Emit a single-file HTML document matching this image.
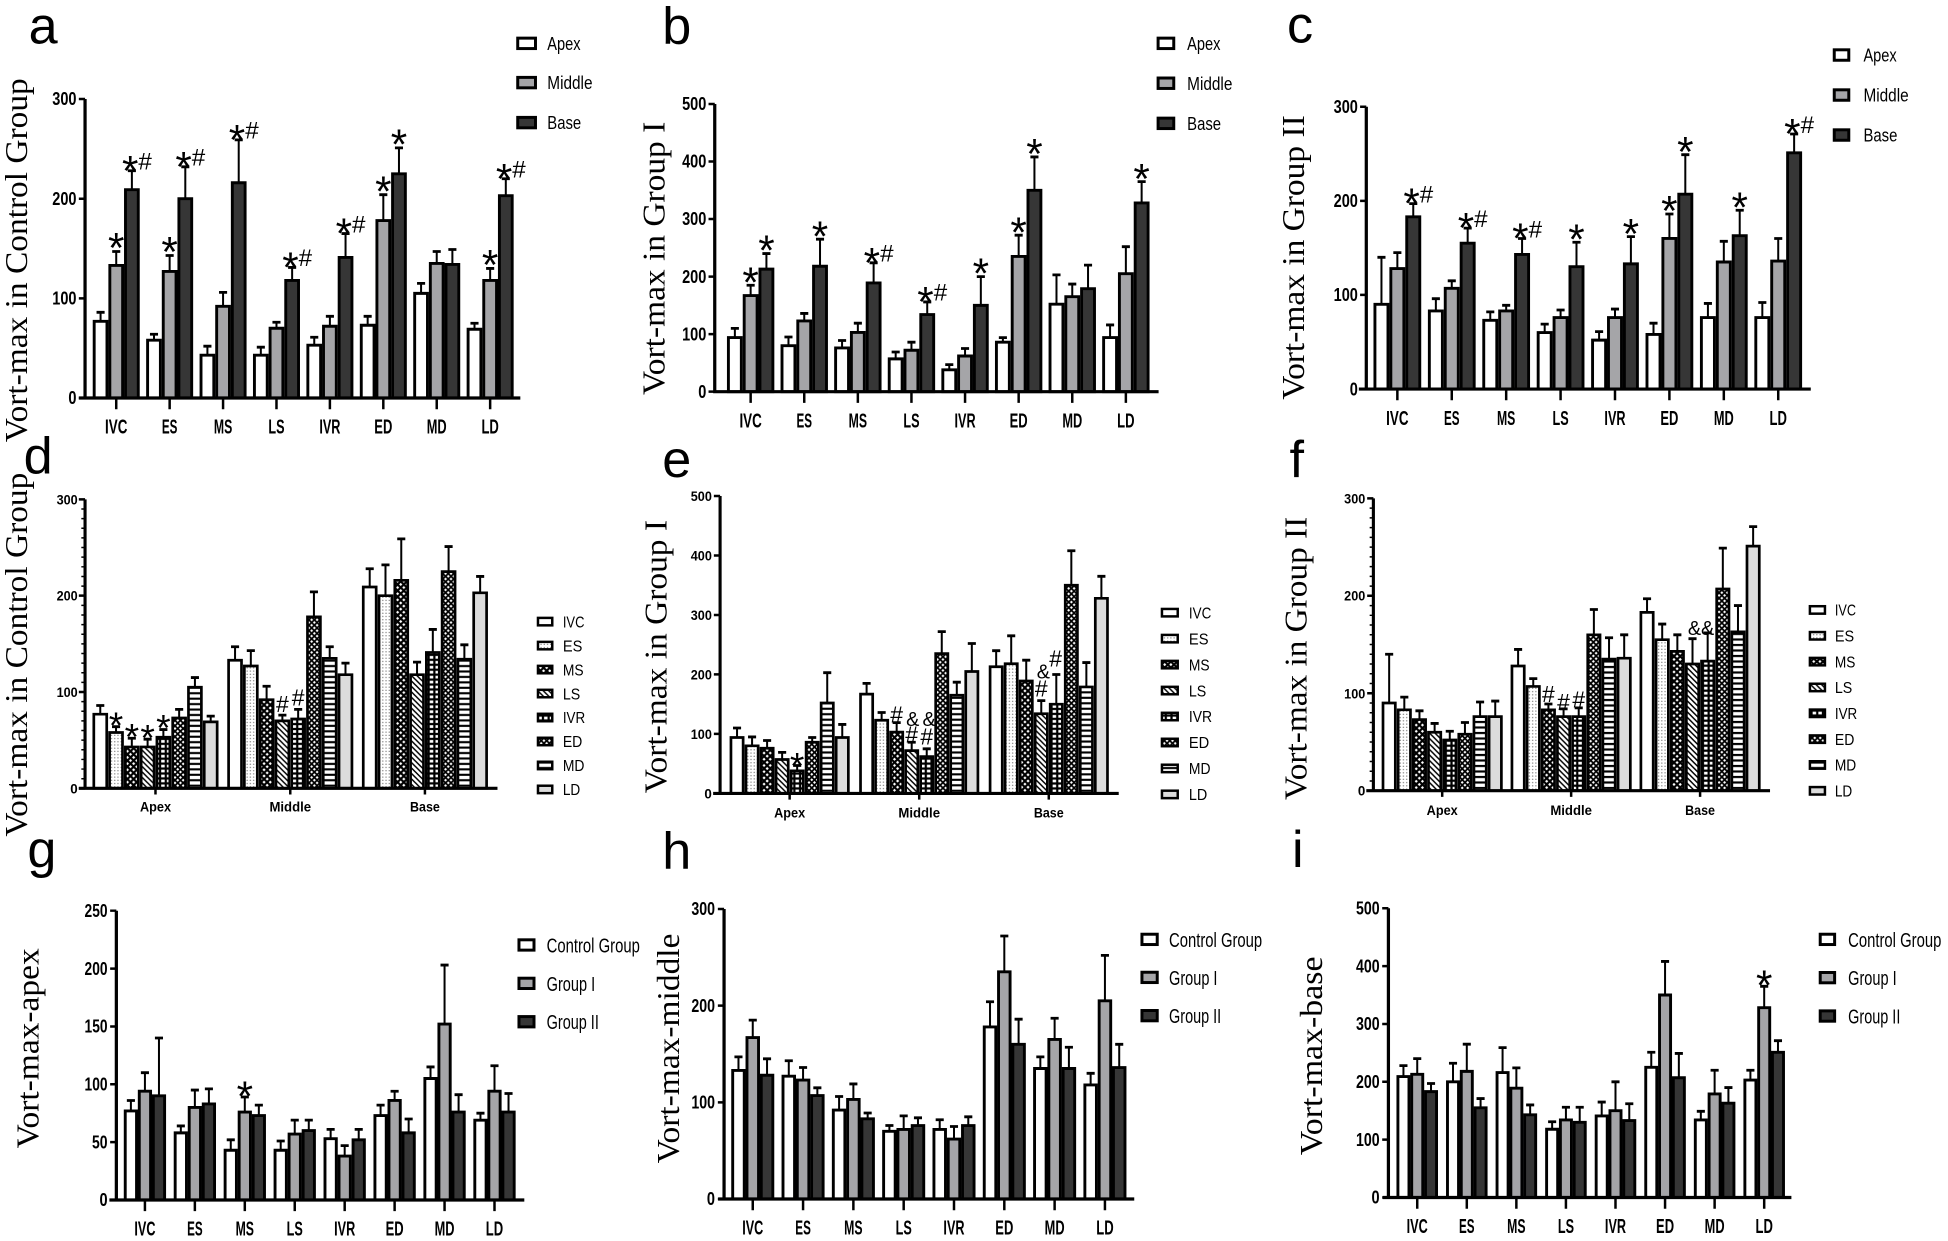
<!DOCTYPE html>
<html><head><meta charset="utf-8"><style>
body{margin:0;background:#fff}
svg{display:block}
text{font-family:"Liberation Sans",Arial,sans-serif;fill:#000}
.L{font-size:42px}
.yl{font-family:"Liberation Serif","Times New Roman",serif;font-size:25.5px;text-anchor:middle}
.tk{font-family:"Liberation Sans Narrow","Liberation Sans",sans-serif;font-weight:bold;font-size:14.5px;text-anchor:end}
.tk2{font-family:"Liberation Sans",sans-serif;font-weight:bold;font-size:11px;text-anchor:end}
.cl{font-family:"Liberation Sans Narrow","Liberation Sans",sans-serif;font-weight:bold;font-size:16.5px;text-anchor:middle}
.gl{font-family:"Liberation Sans",sans-serif;font-weight:bold;font-size:11.5px;text-anchor:middle}
.lg{font-family:"Liberation Sans Narrow","Liberation Sans",sans-serif;font-size:15px}
.lg2{font-family:"Liberation Sans Narrow","Liberation Sans",sans-serif;font-size:13px}
.lg3{font-family:"Liberation Sans Narrow","Liberation Sans",sans-serif;font-size:16.5px}
.st{font-size:34px;text-anchor:middle}
.st2{font-size:30px;text-anchor:middle}
.cb{font-size:19.5px;text-anchor:start}
.an{font-size:18.5px;text-anchor:middle}
.an2{font-size:16px;text-anchor:middle}
.s *{vector-effect:non-scaling-stroke}
</style></head><body>
<svg width="1948" height="1241" viewBox="0 0 1568 999" xmlns="http://www.w3.org/2000/svg">
<defs>
<pattern id="ES0" width="2.6" height="2.6" patternUnits="userSpaceOnUse"><rect width="3" height="3" fill="#fff"/><circle cx="1.3" cy="1.3" r=".6" fill="#888"/></pattern>
<pattern id="MS0" width="5" height="5" patternUnits="userSpaceOnUse"><rect width="5" height="5" fill="#fff"/><path d="M0 0L5 5M5 0L0 5" stroke="#000" stroke-width="1.7"/></pattern>
<pattern id="LS0" width="4.4" height="4.4" patternUnits="userSpaceOnUse"><rect width="4.4" height="4.4" fill="#fff"/><path d="M0 0L4.4 4.4M-1 3.4L1 5.4M3.4-1L5.4 1" stroke="#000" stroke-width="1.2"/></pattern>
<pattern id="IVR0" width="4.6" height="4" patternUnits="userSpaceOnUse"><rect width="4.6" height="4" fill="#000"/><rect x=".9" y=".9" width="2.8" height="2.2" fill="#fff"/></pattern>
<pattern id="ED0" width="4.4" height="4.4" patternUnits="userSpaceOnUse"><rect width="4.4" height="4.4" fill="#000"/><path d="M2.2 1L3.4 2.2L2.2 3.4L1 2.2ZM0 0h1.2L0 1.2ZM4.4 0v1.2L3.2 0ZM0 4.4v-1.2L1.2 4.4ZM4.4 4.4h-1.2L4.4 3.2Z" fill="#fff"/></pattern>
<pattern id="MD0" width="5" height="4.4" patternUnits="userSpaceOnUse"><rect width="5" height="4.4" fill="#fff"/><rect y="1.4" width="5" height="1.7" fill="#000"/></pattern>

<pattern id="ES1" width="2.6" height="2.6" patternUnits="userSpaceOnUse" patternTransform="scale(1,1.283)"><rect width="3" height="3" fill="#fff"/><circle cx="1.3" cy="1.3" r=".6" fill="#888"/></pattern>
<pattern id="MS1" width="5" height="5" patternUnits="userSpaceOnUse" patternTransform="scale(1,1.283)"><rect width="5" height="5" fill="#fff"/><path d="M0 0L5 5M5 0L0 5" stroke="#000" stroke-width="1.7"/></pattern>
<pattern id="LS1" width="4.4" height="4.4" patternUnits="userSpaceOnUse" patternTransform="scale(1,1.283)"><rect width="4.4" height="4.4" fill="#fff"/><path d="M0 0L4.4 4.4M-1 3.4L1 5.4M3.4-1L5.4 1" stroke="#000" stroke-width="1.2"/></pattern>
<pattern id="IVR1" width="4.6" height="4" patternUnits="userSpaceOnUse" patternTransform="scale(1,1.283)"><rect width="4.6" height="4" fill="#000"/><rect x=".9" y=".9" width="2.8" height="2.2" fill="#fff"/></pattern>
<pattern id="ED1" width="4.4" height="4.4" patternUnits="userSpaceOnUse" patternTransform="scale(1,1.283)"><rect width="4.4" height="4.4" fill="#000"/><path d="M2.2 1L3.4 2.2L2.2 3.4L1 2.2ZM0 0h1.2L0 1.2ZM4.4 0v1.2L3.2 0ZM0 4.4v-1.2L1.2 4.4ZM4.4 4.4h-1.2L4.4 3.2Z" fill="#fff"/></pattern>
<pattern id="MD1" width="5" height="4.4" patternUnits="userSpaceOnUse" patternTransform="scale(1,1.283)"><rect width="5" height="4.4" fill="#fff"/><rect y="1.4" width="5" height="1.7" fill="#000"/></pattern>

<pattern id="ES2" width="2.6" height="2.6" patternUnits="userSpaceOnUse" patternTransform="scale(1,2.089)"><rect width="3" height="3" fill="#fff"/><circle cx="1.3" cy="1.3" r=".6" fill="#888"/></pattern>
<pattern id="MS2" width="5" height="5" patternUnits="userSpaceOnUse" patternTransform="scale(1,2.089)"><rect width="5" height="5" fill="#fff"/><path d="M0 0L5 5M5 0L0 5" stroke="#000" stroke-width="1.7"/></pattern>
<pattern id="LS2" width="4.4" height="4.4" patternUnits="userSpaceOnUse" patternTransform="scale(1,2.089)"><rect width="4.4" height="4.4" fill="#fff"/><path d="M0 0L4.4 4.4M-1 3.4L1 5.4M3.4-1L5.4 1" stroke="#000" stroke-width="1.2"/></pattern>
<pattern id="IVR2" width="4.6" height="4" patternUnits="userSpaceOnUse" patternTransform="scale(1,2.089)"><rect width="4.6" height="4" fill="#000"/><rect x=".9" y=".9" width="2.8" height="2.2" fill="#fff"/></pattern>
<pattern id="ED2" width="4.4" height="4.4" patternUnits="userSpaceOnUse" patternTransform="scale(1,2.089)"><rect width="4.4" height="4.4" fill="#000"/><path d="M2.2 1L3.4 2.2L2.2 3.4L1 2.2ZM0 0h1.2L0 1.2ZM4.4 0v1.2L3.2 0ZM0 4.4v-1.2L1.2 4.4ZM4.4 4.4h-1.2L4.4 3.2Z" fill="#fff"/></pattern>
<pattern id="MD2" width="5" height="4.4" patternUnits="userSpaceOnUse" patternTransform="scale(1,2.089)"><rect width="5" height="4.4" fill="#fff"/><rect y="1.4" width="5" height="1.7" fill="#000"/></pattern>
</defs>
<rect width="1568" height="999" fill="#fff"/>

<!-- Panel letters -->
<text class="L" x="23" y="35">a</text>
<text class="L" x="533" y="35">b</text>
<text class="L" x="1036" y="34">c</text>
<text class="L" x="19" y="381">d</text>
<text class="L" x="533" y="384">e</text>
<text class="L" x="1038" y="384">f</text>
<text class="L" x="22" y="698">g</text>
<text class="L" x="533" y="699">h</text>
<text class="L" x="1040" y="698">i</text>

<!-- Y axis titles -->
<text class="yl" transform="translate(21.5,209.5) rotate(-90)" textLength="293" lengthAdjust="spacingAndGlyphs">Vort-max in Control Group</text>
<text class="yl" transform="translate(535,208) rotate(-90)" textLength="220" lengthAdjust="spacingAndGlyphs">Vort-max in Group I</text>
<text class="yl" transform="translate(1049.8,207.3) rotate(-90)" textLength="229" lengthAdjust="spacingAndGlyphs">Vort-max in Group II</text>
<text class="yl" transform="translate(21.5,527) rotate(-90)" textLength="293" lengthAdjust="spacingAndGlyphs">Vort-max in Control Group</text>
<text class="yl" transform="translate(536.5,528.6) rotate(-90)" textLength="220" lengthAdjust="spacingAndGlyphs">Vort-max in Group I</text>
<text class="yl" transform="translate(1051.6,530) rotate(-90)" textLength="228" lengthAdjust="spacingAndGlyphs">Vort-max in Group II</text>
<text class="yl" transform="translate(30.9,843.9) rotate(-90)" textLength="161" lengthAdjust="spacingAndGlyphs">Vort-max-apex</text>
<text class="yl" transform="translate(546.4,844) rotate(-90)" textLength="185" lengthAdjust="spacingAndGlyphs">Vort-max-middle</text>
<text class="yl" transform="translate(1064,850) rotate(-90)" textLength="160" lengthAdjust="spacingAndGlyphs">Vort-max-base</text>

<!-- ===== Panel a ===== -->
<g class="s" transform="translate(0,320.4) scale(1,0.8023)" fill="none" stroke="#000">
<path stroke-width="2" d="M80.9-77V-86M123.9-58V-64M166.9-43V-52M209.9-43V-51M252.9-53V-61M295.9-73V-82M338.9-105V-115M381.9-69V-75M93.5-133V-147M136.5-127V-143M179.5-92V-106M222.5-70V-76M265.5-72V-82M308.5-178V-204M351.5-135V-147M394.5-118V-130M106.1-209V-228M149.1-200V-232M192.1-216V-259M235.1-118V-131M278.1-141V-165M321.1-225V-251M364.1-134V-149M407.1-203V-220"/>
<path stroke-width="2.8" d="M77.65-86h6.5M120.65-64h6.5M163.65-52h6.5M206.65-51h6.5M249.65-61h6.5M292.65-82h6.5M335.65-115h6.5M378.65-75h6.5M90.25-147h6.5M133.25-143h6.5M176.25-106h6.5M219.25-76h6.5M262.25-82h6.5M305.25-204h6.5M348.25-147h6.5M391.25-130h6.5M102.85-228h6.5M145.85-232h6.5M188.85-259h6.5M231.85-131h6.5M274.85-165h6.5M317.85-251h6.5M360.85-149h6.5M403.85-220h6.5"/>
<g stroke-width="2.9">
<path fill="#fff" d="M75.75 0v-77h10.3v77zM118.75 0v-58h10.3v58zM161.75 0v-43h10.3v43zM204.75 0v-43h10.3v43zM247.75 0v-53h10.3v53zM290.75 0v-73h10.3v73zM333.75 0v-105h10.3v105zM376.75 0v-69h10.3v69z"/>
<path fill="#a5a5a8" d="M88.35 0v-133h10.3v133zM131.35 0v-127h10.3v127zM174.35 0v-92h10.3v92zM217.35 0v-70h10.3v70zM260.35 0v-72h10.3v72zM303.35 0v-178h10.3v178zM346.35 0v-135h10.3v135zM389.35 0v-118h10.3v118z"/>
<path fill="#363636" d="M100.95 0v-209h10.3v209zM143.95 0v-200h10.3v200zM186.95 0v-216h10.3v216zM229.95 0v-118h10.3v118zM272.95 0v-141h10.3v141zM315.95 0v-225h10.3v225zM358.95 0v-134h10.3v134zM401.95 0v-203h10.3v203z"/>
</g></g>
<path fill="none" stroke="#000" stroke-width="2.6" d="M68.4 79.7V321.6M63.4 320.4H418.8"/>
<path fill="none" stroke="#000" stroke-width="2" d="M63.4 320.4H68.4M63.4 240.2H68.4M63.4 160H68.4M63.4 79.7H68.4M93.5 320.4v9M136.5 320.4v9M179.5 320.4v9M222.5 320.4v9M265.5 320.4v9M308.5 320.4v9M351.5 320.4v9M394.5 320.4v9"/>
<text class="tk" x="61.5" y="325.4" textLength="6.5" lengthAdjust="spacingAndGlyphs">0</text>
<text class="tk" x="61.5" y="245.2" textLength="19.5" lengthAdjust="spacingAndGlyphs">100</text>
<text class="tk" x="61.5" y="165" textLength="19.5" lengthAdjust="spacingAndGlyphs">200</text>
<text class="tk" x="61.5" y="84.7" textLength="19.5" lengthAdjust="spacingAndGlyphs">300</text>
<text class="cl" x="93.5" y="349" textLength="18" lengthAdjust="spacingAndGlyphs">IVC</text>
<text class="cl" x="136.5" y="349" textLength="12.5" lengthAdjust="spacingAndGlyphs">ES</text>
<text class="cl" x="179.5" y="349" textLength="14.8" lengthAdjust="spacingAndGlyphs">MS</text>
<text class="cl" x="222.5" y="349" textLength="13" lengthAdjust="spacingAndGlyphs">LS</text>
<text class="cl" x="265.5" y="349" textLength="17" lengthAdjust="spacingAndGlyphs">IVR</text>
<text class="cl" x="308.5" y="349" textLength="14.5" lengthAdjust="spacingAndGlyphs">ED</text>
<text class="cl" x="351.5" y="349" textLength="16" lengthAdjust="spacingAndGlyphs">MD</text>
<text class="cl" x="394.5" y="349" textLength="14" lengthAdjust="spacingAndGlyphs">LD</text>
<g stroke="#000" stroke-width="2.4">
<rect x="416.7" y="30.7" width="14.3" height="8.4" fill="#fff"/>
<rect x="416.7" y="62.3" width="14.3" height="8.4" fill="#a5a5a8"/>
<rect x="416.7" y="94.5" width="14.3" height="8.4" fill="#363636"/>
</g>
<text class="lg" x="440.5" y="40.2" textLength="26.8" lengthAdjust="spacingAndGlyphs">Apex</text>
<text class="lg" x="440.5" y="71.8" textLength="36.4" lengthAdjust="spacingAndGlyphs">Middle</text>
<text class="lg" x="440.5" y="104" textLength="27.3" lengthAdjust="spacingAndGlyphs">Base</text>
<text class="st" x="93.5" y="211.5">*</text>
<text class="cb" x="98.1" y="136.5"><tspan font-size="34" dy="12.7">*</tspan><tspan dy="-12.7">#</tspan></text>
<text class="st" x="136.5" y="214.7">*</text>
<text class="cb" x="141.1" y="133.3"><tspan font-size="34" dy="12.7">*</tspan><tspan dy="-12.7">#</tspan></text>
<text class="cb" x="184.1" y="111.6"><tspan font-size="34" dy="12.7">*</tspan><tspan dy="-12.7">#</tspan></text>
<text class="cb" x="227.1" y="214.3"><tspan font-size="34" dy="12.7">*</tspan><tspan dy="-12.7">#</tspan></text>
<text class="cb" x="270.1" y="187"><tspan font-size="34" dy="12.7">*</tspan><tspan dy="-12.7">#</tspan></text>
<text class="st" x="308.5" y="165.7">*</text>
<text class="st" x="321.1" y="128">*</text>
<text class="st" x="394.5" y="225.1">*</text>
<text class="cb" x="399.1" y="142.9"><tspan font-size="34" dy="12.7">*</tspan><tspan dy="-12.7">#</tspan></text>

<!-- ===== Panel b ===== -->
<g class="s" transform="translate(0,315.3) scale(1,0.4632)" fill="none" stroke="#000">
<path stroke-width="2" d="M591.5-94V-110M634.65-80V-95M677.8-76V-89M720.95-57V-69M764.1-38V-47M807.25-86V-94M850.4-152V-203M893.55-94V-116M604.2-167V-185M647.35-123V-136M690.5-103V-119M733.65-72V-86M776.8-62V-75M819.95-235V-272M863.1-165V-187M906.25-205V-252M616.9-213V-240M660.05-218V-265M703.2-189V-224M746.35-134V-156M789.5-150V-200M832.65-350V-408M875.8-179V-220M918.95-328V-365"/>
<path stroke-width="2.8" d="M588.25-110h6.5M631.4-95h6.5M674.55-89h6.5M717.7-69h6.5M760.85-47h6.5M804-94h6.5M847.15-203h6.5M890.3-116h6.5M600.95-185h6.5M644.1-136h6.5M687.25-119h6.5M730.4-86h6.5M773.55-75h6.5M816.7-272h6.5M859.85-187h6.5M903-252h6.5M613.65-240h6.5M656.8-265h6.5M699.95-224h6.5M743.1-156h6.5M786.25-200h6.5M829.4-408h6.5M872.55-220h6.5M915.7-365h6.5"/>
<g stroke-width="2.9">
<path fill="#fff" d="M586.3 0v-94h10.4v94zM629.45 0v-80h10.4v80zM672.6 0v-76h10.4v76zM715.75 0v-57h10.4v57zM758.9 0v-38h10.4v38zM802.05 0v-86h10.4v86zM845.2 0v-152h10.4v152zM888.35 0v-94h10.4v94z"/>
<path fill="#a5a5a8" d="M599 0v-167h10.4v167zM642.15 0v-123h10.4v123zM685.3 0v-103h10.4v103zM728.45 0v-72h10.4v72zM771.6 0v-62h10.4v62zM814.75 0v-235h10.4v235zM857.9 0v-165h10.4v165zM901.05 0v-205h10.4v205z"/>
<path fill="#363636" d="M611.7 0v-213h10.4v213zM654.85 0v-218h10.4v218zM698 0v-189h10.4v189zM741.15 0v-134h10.4v134zM784.3 0v-150h10.4v150zM827.45 0v-350h10.4v350zM870.6 0v-179h10.4v179zM913.75 0v-328h10.4v328z"/>
</g></g>
<path fill="none" stroke="#000" stroke-width="2.6" d="M575.3 83.7V316.5M574 315.3H932.6"/>
<path fill="none" stroke="#000" stroke-width="2" d="M570.3 315.3H575.3M570.3 269H575.3M570.3 222.7H575.3M570.3 176.3H575.3M570.3 130H575.3M570.3 83.7H575.3M604.2 315.3v9M647.35 315.3v9M690.5 315.3v9M733.65 315.3v9M776.8 315.3v9M819.95 315.3v9M863.1 315.3v9M906.25 315.3v9"/>
<text class="tk" x="568.5" y="320.3" textLength="6.5" lengthAdjust="spacingAndGlyphs">0</text>
<text class="tk" x="568.5" y="274" textLength="19.5" lengthAdjust="spacingAndGlyphs">100</text>
<text class="tk" x="568.5" y="227.7" textLength="19.5" lengthAdjust="spacingAndGlyphs">200</text>
<text class="tk" x="568.5" y="181.3" textLength="19.5" lengthAdjust="spacingAndGlyphs">300</text>
<text class="tk" x="568.5" y="135" textLength="19.5" lengthAdjust="spacingAndGlyphs">400</text>
<text class="tk" x="568.5" y="88.7" textLength="19.5" lengthAdjust="spacingAndGlyphs">500</text>
<text class="cl" x="604.2" y="344" textLength="18" lengthAdjust="spacingAndGlyphs">IVC</text>
<text class="cl" x="647.35" y="344" textLength="12.5" lengthAdjust="spacingAndGlyphs">ES</text>
<text class="cl" x="690.5" y="344" textLength="14.8" lengthAdjust="spacingAndGlyphs">MS</text>
<text class="cl" x="733.65" y="344" textLength="13" lengthAdjust="spacingAndGlyphs">LS</text>
<text class="cl" x="776.8" y="344" textLength="17" lengthAdjust="spacingAndGlyphs">IVR</text>
<text class="cl" x="819.95" y="344" textLength="14.5" lengthAdjust="spacingAndGlyphs">ED</text>
<text class="cl" x="863.1" y="344" textLength="16" lengthAdjust="spacingAndGlyphs">MD</text>
<text class="cl" x="906.25" y="344" textLength="14" lengthAdjust="spacingAndGlyphs">LD</text>
<g stroke="#000" stroke-width="2.4">
<rect x="932.2" y="30.7" width="12.6" height="8.4" fill="#fff"/>
<rect x="932.2" y="62.8" width="12.6" height="8.4" fill="#a5a5a8"/>
<rect x="932.2" y="95.1" width="12.6" height="8.4" fill="#363636"/>
</g>
<text class="lg" x="955.6" y="40.2" textLength="26.8" lengthAdjust="spacingAndGlyphs">Apex</text>
<text class="lg" x="955.6" y="72.3" textLength="36.4" lengthAdjust="spacingAndGlyphs">Middle</text>
<text class="lg" x="955.6" y="104.6" textLength="27.3" lengthAdjust="spacingAndGlyphs">Base</text>
<text class="st" x="604.2" y="239">*</text>
<text class="st" x="616.9" y="213.5">*</text>
<text class="st" x="660.05" y="202">*</text>
<text class="cb" x="695.2" y="210.5"><tspan font-size="34" dy="12.7">*</tspan><tspan dy="-12.7">#</tspan></text>
<text class="cb" x="738.35" y="242"><tspan font-size="34" dy="12.7">*</tspan><tspan dy="-12.7">#</tspan></text>
<text class="st" x="789.5" y="232">*</text>
<text class="st" x="819.95" y="198.7">*</text>
<text class="st" x="832.65" y="135.7">*</text>
<text class="st" x="918.95" y="155.6">*</text>

<!-- ===== Panel c ===== -->
<g class="s" transform="translate(0,313.2) scale(1,0.7577)" fill="none" stroke="#000">
<path stroke-width="2" d="M1112-90V-140M1155.8-83V-96M1199.6-73V-82M1243.4-60V-69M1287.2-52V-61M1331-58V-70M1374.8-76V-91M1418.6-76V-92M1124.8-128V-145M1168.6-107V-115M1212.4-83V-89M1256.2-76V-84M1300-76V-85M1343.8-160V-186M1387.6-135V-157M1431.4-136V-160M1137.6-183V-197M1181.4-155V-171M1225.2-143V-160M1269-130V-156M1312.8-133V-162M1356.6-207V-249M1400.4-163V-190M1444.2-251V-271"/>
<path stroke-width="2.8" d="M1108.75-140h6.5M1152.55-96h6.5M1196.35-82h6.5M1240.15-69h6.5M1283.95-61h6.5M1327.75-70h6.5M1371.55-91h6.5M1415.35-92h6.5M1121.55-145h6.5M1165.35-115h6.5M1209.15-89h6.5M1252.95-84h6.5M1296.75-85h6.5M1340.55-186h6.5M1384.35-157h6.5M1428.15-160h6.5M1134.35-197h6.5M1178.15-171h6.5M1221.95-160h6.5M1265.75-156h6.5M1309.55-162h6.5M1353.35-249h6.5M1397.15-190h6.5M1440.95-271h6.5"/>
<g stroke-width="2.9">
<path fill="#fff" d="M1106.75 0v-90h10.5v90zM1150.55 0v-83h10.5v83zM1194.35 0v-73h10.5v73zM1238.15 0v-60h10.5v60zM1281.95 0v-52h10.5v52zM1325.75 0v-58h10.5v58zM1369.55 0v-76h10.5v76zM1413.35 0v-76h10.5v76z"/>
<path fill="#a5a5a8" d="M1119.55 0v-128h10.5v128zM1163.35 0v-107h10.5v107zM1207.15 0v-83h10.5v83zM1250.95 0v-76h10.5v76zM1294.75 0v-76h10.5v76zM1338.55 0v-160h10.5v160zM1382.35 0v-135h10.5v135zM1426.15 0v-136h10.5v136z"/>
<path fill="#363636" d="M1132.35 0v-183h10.5v183zM1176.15 0v-155h10.5v155zM1219.95 0v-143h10.5v143zM1263.75 0v-130h10.5v130zM1307.55 0v-133h10.5v133zM1351.35 0v-207h10.5v207zM1395.15 0v-163h10.5v163zM1438.95 0v-251h10.5v251z"/>
</g></g>
<path fill="none" stroke="#000" stroke-width="2.6" d="M1099.8 85.9V314.4M1093.8 313.2H1457.6"/>
<path fill="none" stroke="#000" stroke-width="2" d="M1094.8 313.2H1099.8M1094.8 237.4H1099.8M1094.8 161.7H1099.8M1094.8 85.9H1099.8M1124.8 313.2v9M1168.6 313.2v9M1212.4 313.2v9M1256.2 313.2v9M1300 313.2v9M1343.8 313.2v9M1387.6 313.2v9M1431.4 313.2v9"/>
<text class="tk" x="1093" y="318.2" textLength="6.5" lengthAdjust="spacingAndGlyphs">0</text>
<text class="tk" x="1093" y="242.4" textLength="19.5" lengthAdjust="spacingAndGlyphs">100</text>
<text class="tk" x="1093" y="166.7" textLength="19.5" lengthAdjust="spacingAndGlyphs">200</text>
<text class="tk" x="1093" y="90.9" textLength="19.5" lengthAdjust="spacingAndGlyphs">300</text>
<text class="cl" x="1124.8" y="342" textLength="18" lengthAdjust="spacingAndGlyphs">IVC</text>
<text class="cl" x="1168.6" y="342" textLength="12.5" lengthAdjust="spacingAndGlyphs">ES</text>
<text class="cl" x="1212.4" y="342" textLength="14.8" lengthAdjust="spacingAndGlyphs">MS</text>
<text class="cl" x="1256.2" y="342" textLength="13" lengthAdjust="spacingAndGlyphs">LS</text>
<text class="cl" x="1300" y="342" textLength="17" lengthAdjust="spacingAndGlyphs">IVR</text>
<text class="cl" x="1343.8" y="342" textLength="14.5" lengthAdjust="spacingAndGlyphs">ED</text>
<text class="cl" x="1387.6" y="342" textLength="16" lengthAdjust="spacingAndGlyphs">MD</text>
<text class="cl" x="1431.4" y="342" textLength="14" lengthAdjust="spacingAndGlyphs">LD</text>
<g stroke="#000" stroke-width="2.4">
<rect x="1476.5" y="40.1" width="11.7" height="8.4" fill="#fff"/>
<rect x="1476.5" y="72.3" width="11.7" height="8.4" fill="#a5a5a8"/>
<rect x="1476.5" y="104.5" width="11.7" height="8.4" fill="#363636"/>
</g>
<text class="lg" x="1500" y="49.6" textLength="26.8" lengthAdjust="spacingAndGlyphs">Apex</text>
<text class="lg" x="1500" y="81.8" textLength="36.4" lengthAdjust="spacingAndGlyphs">Middle</text>
<text class="lg" x="1500" y="114" textLength="27.3" lengthAdjust="spacingAndGlyphs">Base</text>
<text class="cb" x="1129.6" y="162.9"><tspan font-size="34" dy="12.7">*</tspan><tspan dy="-12.7">#</tspan></text>
<text class="cb" x="1173.4" y="182.6"><tspan font-size="34" dy="12.7">*</tspan><tspan dy="-12.7">#</tspan></text>
<text class="cb" x="1217.2" y="191"><tspan font-size="34" dy="12.7">*</tspan><tspan dy="-12.7">#</tspan></text>
<text class="st" x="1269" y="204.4">*</text>
<text class="st" x="1312.8" y="199.9">*</text>
<text class="st" x="1343.8" y="181.7">*</text>
<text class="st" x="1356.6" y="133.9">*</text>
<text class="st" x="1400.4" y="178.6">*</text>
<text class="cb" x="1436.2" y="106.9"><tspan font-size="34" dy="12.7">*</tspan><tspan dy="-12.7">#</tspan></text>

<!-- ===== Panel d ===== -->
<g class="s" transform="translate(0,634.6) scale(1,0.7753)" fill="none" stroke="#000">
<path stroke-width="2" d="M80.65-77V-86M93.35-58V-64M106.05-43V-52M118.75-43V-51M131.45-53V-61M144.15-73V-82M156.85-105V-115M169.55-69V-75M189.15-133V-147M201.85-127V-143M214.55-92V-106M227.25-70V-76M239.95-72V-82M252.65-178V-204M265.35-135V-147M278.05-118V-130M297.55-209V-228M310.25-200V-232M322.95-216V-259M335.65-118V-131M348.35-141V-165M361.05-225V-251M373.75-134V-149M386.45-203V-220"/>
<path stroke-width="2.8" d="M77.4-86h6.5M90.1-64h6.5M102.8-52h6.5M115.5-51h6.5M128.2-61h6.5M140.9-82h6.5M153.6-115h6.5M166.3-75h6.5M185.9-147h6.5M198.6-143h6.5M211.3-106h6.5M224-76h6.5M236.7-82h6.5M249.4-204h6.5M262.1-147h6.5M274.8-130h6.5M294.3-228h6.5M307-232h6.5M319.7-259h6.5M332.4-131h6.5M345.1-165h6.5M357.8-251h6.5M370.5-149h6.5M383.2-220h6.5"/>
<g stroke-width="2.7">
<path fill="#fff" d="M75.45 0v-77h10.4v77zM183.95 0v-133h10.4v133zM292.35 0v-209h10.4v209z"/>
<path fill="url(#ES1)" d="M88.15 0v-58h10.4v58zM196.65 0v-127h10.4v127zM305.05 0v-200h10.4v200z"/>
<path fill="url(#MS1)" d="M100.85 0v-43h10.4v43zM209.35 0v-92h10.4v92zM317.75 0v-216h10.4v216z"/>
<path fill="url(#LS1)" d="M113.55 0v-43h10.4v43zM222.05 0v-70h10.4v70zM330.45 0v-118h10.4v118z"/>
<path fill="url(#IVR1)" d="M126.25 0v-53h10.4v53zM234.75 0v-72h10.4v72zM343.15 0v-141h10.4v141z"/>
<path fill="url(#ED1)" d="M138.95 0v-73h10.4v73zM247.45 0v-178h10.4v178zM355.85 0v-225h10.4v225z"/>
<path fill="url(#MD1)" d="M151.65 0v-105h10.4v105zM260.15 0v-135h10.4v135zM368.55 0v-134h10.4v134z"/>
<path fill="#dcdcdc" d="M164.35 0v-69h10.4v69zM272.85 0v-118h10.4v118zM381.25 0v-203h10.4v203z"/>
</g></g>
<path fill="none" stroke="#000" stroke-width="3" stroke-dasharray="1.2 6.553" stroke-dashoffset="0.6" d="M66.9 634.6V402"/>
<path fill="none" stroke="#000" stroke-width="2.5" d="M68.4 402V635.8M63.4 634.6H400.4"/>
<path fill="none" stroke="#000" stroke-width="2" d="M63.4 634.6H68.4M63.4 557.1H68.4M63.4 479.5H68.4M63.4 402H68.4M125.1 634.6v5M233.6 634.6v5M342 634.6v5"/>
<text class="tk2" x="62.5" y="638.6" textLength="6" lengthAdjust="spacingAndGlyphs">0</text>
<text class="tk2" x="62.5" y="561.1" textLength="17" lengthAdjust="spacingAndGlyphs">100</text>
<text class="tk2" x="62.5" y="483.5" textLength="17" lengthAdjust="spacingAndGlyphs">200</text>
<text class="tk2" x="62.5" y="406" textLength="17" lengthAdjust="spacingAndGlyphs">300</text>
<text class="gl" x="125.1" y="653.4" textLength="25" lengthAdjust="spacingAndGlyphs">Apex</text>
<text class="gl" x="233.6" y="653.4" textLength="33.5" lengthAdjust="spacingAndGlyphs">Middle</text>
<text class="gl" x="342" y="653.4" textLength="24" lengthAdjust="spacingAndGlyphs">Base</text>
<g stroke="#000" stroke-width="2">
<rect x="433" y="497.4" width="11.5" height="6" fill="#fff"/>
<rect x="433" y="516.7" width="11.5" height="6" fill="url(#ES0)"/>
<rect x="433" y="536" width="11.5" height="6" fill="url(#MS0)"/>
<rect x="433" y="555.3" width="11.5" height="6" fill="url(#LS0)"/>
<rect x="433" y="574.6" width="11.5" height="6" fill="url(#IVR0)"/>
<rect x="433" y="593.9" width="11.5" height="6" fill="url(#ED0)"/>
<rect x="433" y="613.2" width="11.5" height="6" fill="url(#MD0)"/>
<rect x="433" y="632.5" width="11.5" height="6" fill="#dcdcdc"/>
</g>
<text class="lg2" x="453" y="505" textLength="17.4" lengthAdjust="spacingAndGlyphs">IVC</text>
<text class="lg2" x="453" y="524.3" textLength="15.7" lengthAdjust="spacingAndGlyphs">ES</text>
<text class="lg2" x="453" y="543.6" textLength="16.7" lengthAdjust="spacingAndGlyphs">MS</text>
<text class="lg2" x="453" y="562.9" textLength="14" lengthAdjust="spacingAndGlyphs">LS</text>
<text class="lg2" x="453" y="582.2" textLength="18" lengthAdjust="spacingAndGlyphs">IVR</text>
<text class="lg2" x="453" y="601.5" textLength="15.7" lengthAdjust="spacingAndGlyphs">ED</text>
<text class="lg2" x="453" y="620.8" textLength="17.4" lengthAdjust="spacingAndGlyphs">MD</text>
<text class="lg2" x="453" y="640.1" textLength="14" lengthAdjust="spacingAndGlyphs">LD</text>
<text class="st2" x="93.35" y="594">*</text>
<text class="st2" x="106.05" y="603.3">*</text>
<text class="st2" x="118.75" y="604.1">*</text>
<text class="st2" x="131.45" y="596.3">*</text>
<text class="an" x="227.25" y="573">#</text>
<text class="an" x="239.95" y="568">#</text>

<!-- ===== Panel e ===== -->
<g class="s" transform="translate(0,638.7) scale(1,0.4788)" fill="none" stroke="#000">
<path stroke-width="2" d="M593.25-94V-110M605.35-80V-95M617.45-76V-89M629.55-57V-69M641.65-38V-47M653.75-86V-94M665.85-152V-203M677.95-94V-116M697.55-167V-185M709.65-123V-136M721.75-103V-119M733.85-72V-86M745.95-62V-75M758.05-235V-272M770.15-165V-187M782.25-205V-252M801.85-213V-240M813.95-218V-265M826.05-189V-224M838.15-134V-156M850.25-150V-200M862.35-350V-408M874.45-179V-220M886.55-328V-365"/>
<path stroke-width="2.8" d="M590-110h6.5M602.1-95h6.5M614.2-89h6.5M626.3-69h6.5M638.4-47h6.5M650.5-94h6.5M662.6-203h6.5M674.7-116h6.5M694.3-185h6.5M706.4-136h6.5M718.5-119h6.5M730.6-86h6.5M742.7-75h6.5M754.8-272h6.5M766.9-187h6.5M779-252h6.5M798.6-240h6.5M810.7-265h6.5M822.8-224h6.5M834.9-156h6.5M847-200h6.5M859.1-408h6.5M871.2-220h6.5M883.3-365h6.5"/>
<g stroke-width="2.7">
<path fill="#fff" d="M588.35 0v-94h9.8v94zM692.65 0v-167h9.8v167zM796.95 0v-213h9.8v213z"/>
<path fill="url(#ES2)" d="M600.45 0v-80h9.8v80zM704.75 0v-123h9.8v123zM809.05 0v-218h9.8v218z"/>
<path fill="url(#MS2)" d="M612.55 0v-76h9.8v76zM716.85 0v-103h9.8v103zM821.15 0v-189h9.8v189z"/>
<path fill="url(#LS2)" d="M624.65 0v-57h9.8v57zM728.95 0v-72h9.8v72zM833.25 0v-134h9.8v134z"/>
<path fill="url(#IVR2)" d="M636.75 0v-38h9.8v38zM741.05 0v-62h9.8v62zM845.35 0v-150h9.8v150z"/>
<path fill="url(#ED2)" d="M648.85 0v-86h9.8v86zM753.15 0v-235h9.8v235zM857.45 0v-350h9.8v350z"/>
<path fill="url(#MD2)" d="M660.95 0v-152h9.8v152zM765.25 0v-165h9.8v165zM869.55 0v-179h9.8v179z"/>
<path fill="#dcdcdc" d="M673.05 0v-94h9.8v94zM777.35 0v-205h9.8v205zM881.65 0v-328h9.8v328z"/>
</g></g>
<path fill="none" stroke="#000" stroke-width="2.5" d="M579.6 399.3V639.9M574 638.7H900.5"/>
<path fill="none" stroke="#000" stroke-width="2" d="M574.6 638.7H579.6M574.6 590.8H579.6M574.6 542.9H579.6M574.6 495.1H579.6M574.6 447.2H579.6M574.6 399.3H579.6M635.6 638.7v5M739.9 638.7v5M844.2 638.7v5"/>
<text class="tk2" x="573" y="642.7" textLength="6" lengthAdjust="spacingAndGlyphs">0</text>
<text class="tk2" x="573" y="594.8" textLength="17" lengthAdjust="spacingAndGlyphs">100</text>
<text class="tk2" x="573" y="546.9" textLength="17" lengthAdjust="spacingAndGlyphs">200</text>
<text class="tk2" x="573" y="499.1" textLength="17" lengthAdjust="spacingAndGlyphs">300</text>
<text class="tk2" x="573" y="451.2" textLength="17" lengthAdjust="spacingAndGlyphs">400</text>
<text class="tk2" x="573" y="403.3" textLength="17" lengthAdjust="spacingAndGlyphs">500</text>
<text class="gl" x="635.6" y="658" textLength="25" lengthAdjust="spacingAndGlyphs">Apex</text>
<text class="gl" x="739.9" y="658" textLength="33.5" lengthAdjust="spacingAndGlyphs">Middle</text>
<text class="gl" x="844.2" y="658" textLength="24" lengthAdjust="spacingAndGlyphs">Base</text>
<g stroke="#000" stroke-width="2">
<rect x="935.3" y="490.2" width="12.7" height="6" fill="#fff"/>
<rect x="935.3" y="511.1" width="12.7" height="6" fill="url(#ES0)"/>
<rect x="935.3" y="532" width="12.7" height="6" fill="url(#MS0)"/>
<rect x="935.3" y="552.9" width="12.7" height="6" fill="url(#LS0)"/>
<rect x="935.3" y="573.8" width="12.7" height="6" fill="url(#IVR0)"/>
<rect x="935.3" y="594.7" width="12.7" height="6" fill="url(#ED0)"/>
<rect x="935.3" y="615.6" width="12.7" height="6" fill="url(#MD0)"/>
<rect x="935.3" y="636.5" width="12.7" height="6" fill="#dcdcdc"/>
</g>
<text class="lg2" x="957" y="497.8" textLength="18" lengthAdjust="spacingAndGlyphs">IVC</text>
<text class="lg2" x="957" y="518.7" textLength="15.8" lengthAdjust="spacingAndGlyphs">ES</text>
<text class="lg2" x="957" y="539.6" textLength="16.7" lengthAdjust="spacingAndGlyphs">MS</text>
<text class="lg2" x="957" y="560.5" textLength="14" lengthAdjust="spacingAndGlyphs">LS</text>
<text class="lg2" x="957" y="581.4" textLength="18.7" lengthAdjust="spacingAndGlyphs">IVR</text>
<text class="lg2" x="957" y="602.3" textLength="16.4" lengthAdjust="spacingAndGlyphs">ED</text>
<text class="lg2" x="957" y="623.2" textLength="17.4" lengthAdjust="spacingAndGlyphs">MD</text>
<text class="lg2" x="957" y="644.1" textLength="14.8" lengthAdjust="spacingAndGlyphs">LD</text>
<text class="st2" x="641.65" y="626.8">*</text>
<text class="an" x="721.75" y="581.7">#</text>
<text class="an2" x="734.7" y="584.5">&amp;</text>
<text class="an2" x="747.9" y="584.5">&amp;</text>
<text class="an" x="733.85" y="597.7">#</text>
<text class="an" x="745.95" y="599.5">#</text>
<text class="an2" x="839.8" y="546">&amp;</text>
<text class="an" x="838.15" y="560.5">#</text>
<text class="an" x="849.7" y="536.7">#</text>

<!-- ===== Panel f ===== -->
<g class="s" transform="translate(0,636.5) scale(1,0.7843)" fill="none" stroke="#000">
<path stroke-width="2" d="M1118.2-90V-140M1130.4-83V-96M1142.6-73V-82M1154.8-60V-69M1167-52V-61M1179.2-58V-70M1191.4-76V-91M1203.6-76V-92M1222-128V-145M1234.2-107V-115M1246.4-83V-89M1258.6-76V-84M1270.8-76V-85M1283-160V-186M1295.2-135V-157M1307.4-136V-160M1325.8-183V-197M1338-155V-171M1350.2-143V-160M1362.4-130V-156M1374.6-133V-162M1386.8-207V-249M1399-163V-190M1411.2-251V-271"/>
<path stroke-width="2.8" d="M1114.95-140h6.5M1127.15-96h6.5M1139.35-82h6.5M1151.55-69h6.5M1163.75-61h6.5M1175.95-70h6.5M1188.15-91h6.5M1200.35-92h6.5M1218.75-145h6.5M1230.95-115h6.5M1243.15-89h6.5M1255.35-84h6.5M1267.55-85h6.5M1279.75-186h6.5M1291.95-157h6.5M1304.15-160h6.5M1322.55-197h6.5M1334.75-171h6.5M1346.95-160h6.5M1359.15-156h6.5M1371.35-162h6.5M1383.55-249h6.5M1395.75-190h6.5M1407.95-271h6.5"/>
<g stroke-width="2.7">
<path fill="#fff" d="M1113.25 0v-90h9.9v90zM1217.05 0v-128h9.9v128zM1320.85 0v-183h9.9v183z"/>
<path fill="url(#ES1)" d="M1125.45 0v-83h9.9v83zM1229.25 0v-107h9.9v107zM1333.05 0v-155h9.9v155z"/>
<path fill="url(#MS1)" d="M1137.65 0v-73h9.9v73zM1241.45 0v-83h9.9v83zM1345.25 0v-143h9.9v143z"/>
<path fill="url(#LS1)" d="M1149.85 0v-60h9.9v60zM1253.65 0v-76h9.9v76zM1357.45 0v-130h9.9v130z"/>
<path fill="url(#IVR1)" d="M1162.05 0v-52h9.9v52zM1265.85 0v-76h9.9v76zM1369.65 0v-133h9.9v133z"/>
<path fill="url(#ED1)" d="M1174.25 0v-58h9.9v58zM1278.05 0v-160h9.9v160zM1381.85 0v-207h9.9v207z"/>
<path fill="url(#MD1)" d="M1186.45 0v-76h9.9v76zM1290.25 0v-135h9.9v135zM1394.05 0v-163h9.9v163z"/>
<path fill="#dcdcdc" d="M1198.65 0v-76h9.9v76zM1302.45 0v-136h9.9v136zM1406.25 0v-251h9.9v251z"/>
</g></g>
<path fill="none" stroke="#000" stroke-width="3" stroke-dasharray="1.2 6.643" stroke-dashoffset="0.6" d="M1104 636.5V401.2"/>
<path fill="none" stroke="#000" stroke-width="2.5" d="M1105.5 401.2V637.7M1099.8 636.5H1424.8"/>
<path fill="none" stroke="#000" stroke-width="2" d="M1100.5 636.5H1105.5M1100.5 558.1H1105.5M1100.5 479.6H1105.5M1100.5 401.2H1105.5M1160.9 636.5v5M1264.7 636.5v5M1368.5 636.5v5"/>
<text class="tk2" x="1099" y="640.5" textLength="6" lengthAdjust="spacingAndGlyphs">0</text>
<text class="tk2" x="1099" y="562.1" textLength="17" lengthAdjust="spacingAndGlyphs">100</text>
<text class="tk2" x="1099" y="483.6" textLength="17" lengthAdjust="spacingAndGlyphs">200</text>
<text class="tk2" x="1099" y="405.2" textLength="17" lengthAdjust="spacingAndGlyphs">300</text>
<text class="gl" x="1160.9" y="656" textLength="25" lengthAdjust="spacingAndGlyphs">Apex</text>
<text class="gl" x="1264.7" y="656" textLength="33.5" lengthAdjust="spacingAndGlyphs">Middle</text>
<text class="gl" x="1368.5" y="656" textLength="24" lengthAdjust="spacingAndGlyphs">Base</text>
<g stroke="#000" stroke-width="2">
<rect x="1456.9" y="488" width="12.1" height="6" fill="#fff"/>
<rect x="1456.9" y="508.8" width="12.1" height="6" fill="url(#ES0)"/>
<rect x="1456.9" y="529.6" width="12.1" height="6" fill="url(#MS0)"/>
<rect x="1456.9" y="550.4" width="12.1" height="6" fill="url(#LS0)"/>
<rect x="1456.9" y="571.2" width="12.1" height="6" fill="url(#IVR0)"/>
<rect x="1456.9" y="592" width="12.1" height="6" fill="url(#ED0)"/>
<rect x="1456.9" y="612.8" width="12.1" height="6" fill="url(#MD0)"/>
<rect x="1456.9" y="633.6" width="12.1" height="6" fill="#dcdcdc"/>
</g>
<text class="lg2" x="1477" y="495.6" textLength="17" lengthAdjust="spacingAndGlyphs">IVC</text>
<text class="lg2" x="1477" y="516.4" textLength="15.5" lengthAdjust="spacingAndGlyphs">ES</text>
<text class="lg2" x="1477" y="537.2" textLength="16.5" lengthAdjust="spacingAndGlyphs">MS</text>
<text class="lg2" x="1477" y="558" textLength="14" lengthAdjust="spacingAndGlyphs">LS</text>
<text class="lg2" x="1477" y="578.8" textLength="18" lengthAdjust="spacingAndGlyphs">IVR</text>
<text class="lg2" x="1477" y="599.6" textLength="15.7" lengthAdjust="spacingAndGlyphs">ED</text>
<text class="lg2" x="1477" y="620.4" textLength="17.2" lengthAdjust="spacingAndGlyphs">MD</text>
<text class="lg2" x="1477" y="641.2" textLength="14" lengthAdjust="spacingAndGlyphs">LD</text>
<text class="an" x="1246.4" y="565">#</text>
<text class="an" x="1258.6" y="571.6">#</text>
<text class="an" x="1270.8" y="569.4">#</text>
<text class="an2" x="1364" y="511.2">&amp;</text>
<text class="an2" x="1374.6" y="511.2">&amp;</text>

<!-- ===== Panel g ===== -->
<g class="s" transform="translate(0,966) scale(1,0.9316)" fill="none" stroke="#000">
<path stroke-width="2" d="M105.3-77V-86M145.5-58V-64M185.7-43V-52M225.9-43V-51M266.1-53V-61M306.3-73V-82M346.5-105V-115M386.7-69V-75M116.6-94V-110M156.8-80V-95M197-76V-89M237.2-57V-69M277.4-38V-47M317.6-86V-94M357.8-152V-203M398-94V-116M127.9-90V-140M168.1-83V-96M208.3-73V-82M248.5-60V-69M288.7-52V-61M328.9-58V-70M369.1-76V-91M409.3-76V-92"/>
<path stroke-width="2.8" d="M102.05-86h6.5M142.25-64h6.5M182.45-52h6.5M222.65-51h6.5M262.85-61h6.5M303.05-82h6.5M343.25-115h6.5M383.45-75h6.5M113.35-110h6.5M153.55-95h6.5M193.75-89h6.5M233.95-69h6.5M274.15-47h6.5M314.35-94h6.5M354.55-203h6.5M394.75-116h6.5M124.65-140h6.5M164.85-96h6.5M205.05-82h6.5M245.25-69h6.5M285.45-61h6.5M325.65-70h6.5M365.85-91h6.5M406.05-92h6.5"/>
<g stroke-width="2.9">
<path fill="#fff" d="M100.75 0v-77h9.1v77zM140.95 0v-58h9.1v58zM181.15 0v-43h9.1v43zM221.35 0v-43h9.1v43zM261.55 0v-53h9.1v53zM301.75 0v-73h9.1v73zM341.95 0v-105h9.1v105zM382.15 0v-69h9.1v69z"/>
<path fill="#a5a5a8" d="M112.05 0v-94h9.1v94zM152.25 0v-80h9.1v80zM192.45 0v-76h9.1v76zM232.65 0v-57h9.1v57zM272.85 0v-38h9.1v38zM313.05 0v-86h9.1v86zM353.25 0v-152h9.1v152zM393.45 0v-94h9.1v94z"/>
<path fill="#363636" d="M123.35 0v-90h9.1v90zM163.55 0v-83h9.1v83zM203.75 0v-73h9.1v73zM243.95 0v-60h9.1v60zM284.15 0v-52h9.1v52zM324.35 0v-58h9.1v58zM364.55 0v-76h9.1v76zM404.75 0v-76h9.1v76z"/>
</g></g>
<path fill="none" stroke="#000" stroke-width="2.6" d="M93.6 733.1V967.2M88 966H422"/>
<path fill="none" stroke="#000" stroke-width="2" d="M88.6 966H93.6M88.6 919.4H93.6M88.6 872.8H93.6M88.6 826.3H93.6M88.6 779.7H93.6M88.6 733.1H93.6M116.6 966v9M156.8 966v9M197 966v9M237.2 966v9M277.4 966v9M317.6 966v9M357.8 966v9M398 966v9"/>
<text class="tk" x="86.5" y="971" textLength="6.5" lengthAdjust="spacingAndGlyphs">0</text>
<text class="tk" x="86.5" y="924.4" textLength="12.5" lengthAdjust="spacingAndGlyphs">50</text>
<text class="tk" x="86.5" y="877.8" textLength="18.5" lengthAdjust="spacingAndGlyphs">100</text>
<text class="tk" x="86.5" y="831.3" textLength="18.5" lengthAdjust="spacingAndGlyphs">150</text>
<text class="tk" x="86.5" y="784.7" textLength="18.5" lengthAdjust="spacingAndGlyphs">200</text>
<text class="tk" x="86.5" y="738.1" textLength="18.5" lengthAdjust="spacingAndGlyphs">250</text>
<text class="cl" x="116.6" y="994.5" textLength="17" lengthAdjust="spacingAndGlyphs">IVC</text>
<text class="cl" x="156.8" y="994.5" textLength="12.5" lengthAdjust="spacingAndGlyphs">ES</text>
<text class="cl" x="197" y="994.5" textLength="14.8" lengthAdjust="spacingAndGlyphs">MS</text>
<text class="cl" x="237.2" y="994.5" textLength="13" lengthAdjust="spacingAndGlyphs">LS</text>
<text class="cl" x="277.4" y="994.5" textLength="17" lengthAdjust="spacingAndGlyphs">IVR</text>
<text class="cl" x="317.6" y="994.5" textLength="14.5" lengthAdjust="spacingAndGlyphs">ED</text>
<text class="cl" x="357.8" y="994.5" textLength="16" lengthAdjust="spacingAndGlyphs">MD</text>
<text class="cl" x="398" y="994.5" textLength="14" lengthAdjust="spacingAndGlyphs">LD</text>
<g stroke="#000" stroke-width="2.4">
<rect x="417.7" y="756.55" width="12.1" height="8.3" fill="#fff"/>
<rect x="417.7" y="787.45" width="12.1" height="8.3" fill="#a5a5a8"/>
<rect x="417.7" y="818.35" width="12.1" height="8.3" fill="#363636"/>
</g>
<text class="lg3" x="440" y="766.7" textLength="75" lengthAdjust="spacingAndGlyphs">Control Group</text>
<text class="lg3" x="440" y="797.6" textLength="39" lengthAdjust="spacingAndGlyphs">Group I</text>
<text class="lg3" x="440" y="828.5" textLength="42" lengthAdjust="spacingAndGlyphs">Group II</text>
<text class="st" x="197" y="894.5">*</text>

<!-- ===== Panel h ===== -->
<g class="s" transform="translate(0,965.2) scale(1,0.7783)" fill="none" stroke="#000">
<path stroke-width="2" d="M594.4-133V-147M634.9-127V-143M675.4-92V-106M715.9-70V-76M756.4-72V-82M796.9-178V-204M837.4-135V-147M877.9-118V-130M605.9-167V-185M646.4-123V-136M686.9-103V-119M727.4-72V-86M767.9-62V-75M808.4-235V-272M848.9-165V-187M889.4-205V-252M617.4-128V-145M657.9-107V-115M698.4-83V-89M738.9-76V-84M779.4-76V-85M819.9-160V-186M860.4-135V-157M900.9-136V-160"/>
<path stroke-width="2.8" d="M591.15-147h6.5M631.65-143h6.5M672.15-106h6.5M712.65-76h6.5M753.15-82h6.5M793.65-204h6.5M834.15-147h6.5M874.65-130h6.5M602.65-185h6.5M643.15-136h6.5M683.65-119h6.5M724.15-86h6.5M764.65-75h6.5M805.15-272h6.5M845.65-187h6.5M886.15-252h6.5M614.15-145h6.5M654.65-115h6.5M695.15-89h6.5M735.65-84h6.5M776.15-85h6.5M816.65-186h6.5M857.15-157h6.5M897.65-160h6.5"/>
<g stroke-width="2.9">
<path fill="#fff" d="M589.75 0v-133h9.3v133zM630.25 0v-127h9.3v127zM670.75 0v-92h9.3v92zM711.25 0v-70h9.3v70zM751.75 0v-72h9.3v72zM792.25 0v-178h9.3v178zM832.75 0v-135h9.3v135zM873.25 0v-118h9.3v118z"/>
<path fill="#a5a5a8" d="M601.25 0v-167h9.3v167zM641.75 0v-123h9.3v123zM682.25 0v-103h9.3v103zM722.75 0v-72h9.3v72zM763.25 0v-62h9.3v62zM803.75 0v-235h9.3v235zM844.25 0v-165h9.3v165zM884.75 0v-205h9.3v205z"/>
<path fill="#363636" d="M612.75 0v-128h9.3v128zM653.25 0v-107h9.3v107zM693.75 0v-83h9.3v83zM734.25 0v-76h9.3v76zM774.75 0v-76h9.3v76zM815.25 0v-160h9.3v160zM855.75 0v-135h9.3v135zM896.25 0v-136h9.3v136z"/>
</g></g>
<path fill="none" stroke="#000" stroke-width="2.6" d="M582.8 731.7V966.4M578 965.2H913"/>
<path fill="none" stroke="#000" stroke-width="2" d="M577.8 965.2H582.8M577.8 887.4H582.8M577.8 809.5H582.8M577.8 731.7H582.8M605.9 965.2v9M646.4 965.2v9M686.9 965.2v9M727.4 965.2v9M767.9 965.2v9M808.4 965.2v9M848.9 965.2v9M889.4 965.2v9"/>
<text class="tk" x="575.5" y="970.2" textLength="6.5" lengthAdjust="spacingAndGlyphs">0</text>
<text class="tk" x="575.5" y="892.4" textLength="19" lengthAdjust="spacingAndGlyphs">100</text>
<text class="tk" x="575.5" y="814.5" textLength="19" lengthAdjust="spacingAndGlyphs">200</text>
<text class="tk" x="575.5" y="736.7" textLength="19" lengthAdjust="spacingAndGlyphs">300</text>
<text class="cl" x="605.9" y="993.7" textLength="17" lengthAdjust="spacingAndGlyphs">IVC</text>
<text class="cl" x="646.4" y="993.7" textLength="12.5" lengthAdjust="spacingAndGlyphs">ES</text>
<text class="cl" x="686.9" y="993.7" textLength="14.8" lengthAdjust="spacingAndGlyphs">MS</text>
<text class="cl" x="727.4" y="993.7" textLength="13" lengthAdjust="spacingAndGlyphs">LS</text>
<text class="cl" x="767.9" y="993.7" textLength="17" lengthAdjust="spacingAndGlyphs">IVR</text>
<text class="cl" x="808.4" y="993.7" textLength="14.5" lengthAdjust="spacingAndGlyphs">ED</text>
<text class="cl" x="848.9" y="993.7" textLength="16" lengthAdjust="spacingAndGlyphs">MD</text>
<text class="cl" x="889.4" y="993.7" textLength="14" lengthAdjust="spacingAndGlyphs">LD</text>
<g stroke="#000" stroke-width="2.4">
<rect x="919.2" y="752.05" width="12.3" height="8.3" fill="#fff"/>
<rect x="919.2" y="782.65" width="12.3" height="8.3" fill="#a5a5a8"/>
<rect x="919.2" y="813.45" width="12.3" height="8.3" fill="#363636"/>
</g>
<text class="lg3" x="941" y="762.2" textLength="75" lengthAdjust="spacingAndGlyphs">Control Group</text>
<text class="lg3" x="941" y="792.8" textLength="39" lengthAdjust="spacingAndGlyphs">Group I</text>
<text class="lg3" x="941" y="823.6" textLength="42" lengthAdjust="spacingAndGlyphs">Group II</text>

<!-- ===== Panel i ===== -->
<g class="s" transform="translate(0,964) scale(1,0.4658)" fill="none" stroke="#000">
<path stroke-width="2" d="M1129.7-209V-228M1169.6-200V-232M1209.5-216V-259M1249.4-118V-131M1289.3-141V-165M1329.2-225V-251M1369.1-134V-149M1409-203V-220M1140.8-213V-240M1180.7-218V-265M1220.6-189V-224M1260.5-134V-156M1300.4-150V-200M1340.3-350V-408M1380.2-179V-220M1420.1-328V-365M1151.9-183V-197M1191.8-155V-171M1231.7-143V-160M1271.6-130V-156M1311.5-133V-162M1351.4-207V-249M1391.3-163V-190M1431.2-251V-271"/>
<path stroke-width="2.8" d="M1126.45-228h6.5M1166.35-232h6.5M1206.25-259h6.5M1246.15-131h6.5M1286.05-165h6.5M1325.95-251h6.5M1365.85-149h6.5M1405.75-220h6.5M1137.55-240h6.5M1177.45-265h6.5M1217.35-224h6.5M1257.25-156h6.5M1297.15-200h6.5M1337.05-408h6.5M1376.95-220h6.5M1416.85-365h6.5M1148.65-197h6.5M1188.55-171h6.5M1228.45-160h6.5M1268.35-156h6.5M1308.25-162h6.5M1348.15-249h6.5M1388.05-190h6.5M1427.95-271h6.5"/>
<g stroke-width="2.9">
<path fill="#fff" d="M1125.25 0v-209h8.9v209zM1165.15 0v-200h8.9v200zM1205.05 0v-216h8.9v216zM1244.95 0v-118h8.9v118zM1284.85 0v-141h8.9v141zM1324.75 0v-225h8.9v225zM1364.65 0v-134h8.9v134zM1404.55 0v-203h8.9v203z"/>
<path fill="#a5a5a8" d="M1136.35 0v-213h8.9v213zM1176.25 0v-218h8.9v218zM1216.15 0v-189h8.9v189zM1256.05 0v-134h8.9v134zM1295.95 0v-150h8.9v150zM1335.85 0v-350h8.9v350zM1375.75 0v-179h8.9v179zM1415.65 0v-328h8.9v328z"/>
<path fill="#363636" d="M1147.45 0v-183h8.9v183zM1187.35 0v-155h8.9v155zM1227.25 0v-143h8.9v143zM1267.15 0v-130h8.9v130zM1307.05 0v-133h8.9v133zM1346.95 0v-207h8.9v207zM1386.85 0v-163h8.9v163zM1426.75 0v-251h8.9v251z"/>
</g></g>
<path fill="none" stroke="#000" stroke-width="2.6" d="M1117.6 731.1V965.2M1113 964H1442"/>
<path fill="none" stroke="#000" stroke-width="2" d="M1112.6 964H1117.6M1112.6 917.4H1117.6M1112.6 870.8H1117.6M1112.6 824.3H1117.6M1112.6 777.7H1117.6M1112.6 731.1H1117.6M1140.8 964v9M1180.7 964v9M1220.6 964v9M1260.5 964v9M1300.4 964v9M1340.3 964v9M1380.2 964v9M1420.1 964v9"/>
<text class="tk" x="1110.5" y="969" textLength="6.5" lengthAdjust="spacingAndGlyphs">0</text>
<text class="tk" x="1110.5" y="922.4" textLength="19" lengthAdjust="spacingAndGlyphs">100</text>
<text class="tk" x="1110.5" y="875.8" textLength="19" lengthAdjust="spacingAndGlyphs">200</text>
<text class="tk" x="1110.5" y="829.3" textLength="19" lengthAdjust="spacingAndGlyphs">300</text>
<text class="tk" x="1110.5" y="782.7" textLength="19" lengthAdjust="spacingAndGlyphs">400</text>
<text class="tk" x="1110.5" y="736.1" textLength="19" lengthAdjust="spacingAndGlyphs">500</text>
<text class="cl" x="1140.8" y="992.5" textLength="17" lengthAdjust="spacingAndGlyphs">IVC</text>
<text class="cl" x="1180.7" y="992.5" textLength="12.5" lengthAdjust="spacingAndGlyphs">ES</text>
<text class="cl" x="1220.6" y="992.5" textLength="14.8" lengthAdjust="spacingAndGlyphs">MS</text>
<text class="cl" x="1260.5" y="992.5" textLength="13" lengthAdjust="spacingAndGlyphs">LS</text>
<text class="cl" x="1300.4" y="992.5" textLength="17" lengthAdjust="spacingAndGlyphs">IVR</text>
<text class="cl" x="1340.3" y="992.5" textLength="14.5" lengthAdjust="spacingAndGlyphs">ED</text>
<text class="cl" x="1380.2" y="992.5" textLength="16" lengthAdjust="spacingAndGlyphs">MD</text>
<text class="cl" x="1420.1" y="992.5" textLength="14" lengthAdjust="spacingAndGlyphs">LD</text>
<g stroke="#000" stroke-width="2.4">
<rect x="1465.2" y="752.05" width="11.6" height="8.3" fill="#fff"/>
<rect x="1465.2" y="782.85" width="11.6" height="8.3" fill="#a5a5a8"/>
<rect x="1465.2" y="813.75" width="11.6" height="8.3" fill="#363636"/>
</g>
<text class="lg3" x="1487.7" y="762.2" textLength="75" lengthAdjust="spacingAndGlyphs">Control Group</text>
<text class="lg3" x="1487.7" y="793" textLength="39" lengthAdjust="spacingAndGlyphs">Group I</text>
<text class="lg3" x="1487.7" y="823.9" textLength="42" lengthAdjust="spacingAndGlyphs">Group II</text>
<text class="st" x="1420.1" y="805">*</text>
</svg>
</body></html>
